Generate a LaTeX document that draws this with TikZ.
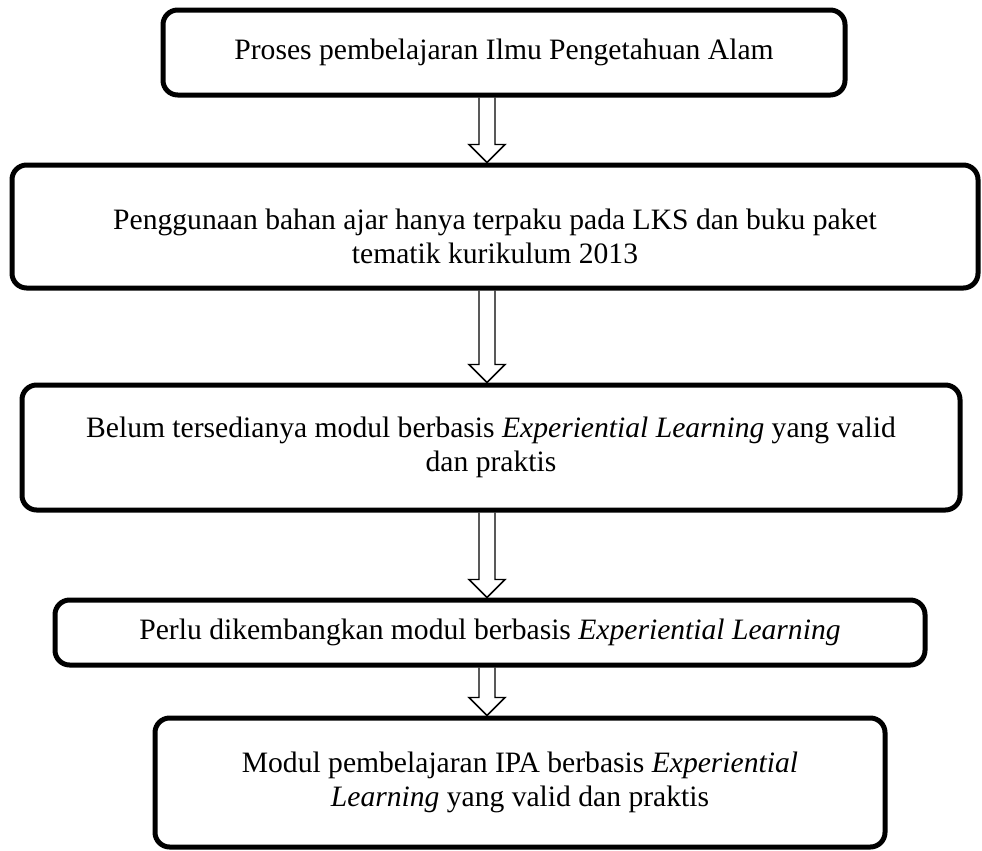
\documentclass[tikz,border=0pt]{standalone}
\usepackage{fontspec}
\setmainfont{Liberation Serif}
\usetikzlibrary{calc}

\tikzset{
  stagebox/.style={draw, line width=3.75pt, rounded corners=11pt, align=center, inner sep=0pt, font=\fontsize{22.2}{25.5}\selectfont},
  stagetext/.style={align=center, inner sep=0pt, font=\fontsize{22.2}{25.5}\selectfont},
  hollowarrow/.style={line width=1.1pt, line join=miter},
}
% hollow block arrow from #1 (top) down to #2 (tip)
\newcommand{\downblock}[2]{%
  \draw[hollowarrow] ($(#1)+(-8,0)$) -- ($(#2)+(-8,-18)$) -- ($(#2)+(-18,-18)$) -- (#2) -- ($(#2)+(18,-18)$) -- ($(#2)+(8,-18)$) -- ($(#1)+(8,0)$) ;}

\begin{document}
\begin{tikzpicture}[x=0.75pt,y=0.75pt,yscale=-1,xscale=1]
\useasboundingbox (0,0) rectangle (982,850);
\coordinate (axis) at (487,0);

%Shape: Rounded Rectangle
\node[stagebox, minimum width=511.5pt, minimum height=63.75pt] (proses) at (504,52.5) {Proses pembelajaran Ilmu Pengetahuan Alam};
%Shape: Rounded Rectangle
\node[stagebox, minimum width=724.5pt, minimum height=92.25pt] (bahan) at (495,226.5) {};
% Text Node
\node[stagetext] (bahantext) at (495,236.5) {Penggunaan bahan ajar hanya terpaku pada LKS dan buku paket\\ tematik kurikulum 2013};
%Shape: Rounded Rectangle
\node[stagebox, minimum width=703.5pt, minimum height=93.75pt] (belum) at (491,447.5) {Belum tersedianya modul berbasis \textit{Experiential Learning} yang valid\\ dan praktis};
%Shape: Rounded Rectangle
\node[stagebox, minimum width=652.5pt, minimum height=48.75pt] (perlu) at (490,632.5) {Perlu dikembangkan modul berbasis \textit{Experiential Learning}};
%Shape: Rounded Rectangle
\node[stagebox, minimum width=547.5pt, minimum height=96.75pt] (modul) at (520,782.5) {Modul pembelajaran IPA berbasis \textit{Experiential}\\ \textit{Learning} yang valid dan praktis};

%Block Arrows
\coordinate (a1s) at (proses.south -| axis);
\coordinate (a1e) at (bahan.north -| axis);
\coordinate (a2s) at (bahan.south -| axis);
\coordinate (a2e) at (belum.north -| axis);
\coordinate (a3s) at (belum.south -| axis);
\coordinate (a3e) at (perlu.north -| axis);
\coordinate (a4s) at (perlu.south -| axis);
\coordinate (a4e) at (modul.north -| axis);
\downblock{a1s}{a1e}
\downblock{a2s}{a2e}
\downblock{a3s}{a3e}
\downblock{a4s}{a4e}
\end{tikzpicture}
\end{document}
